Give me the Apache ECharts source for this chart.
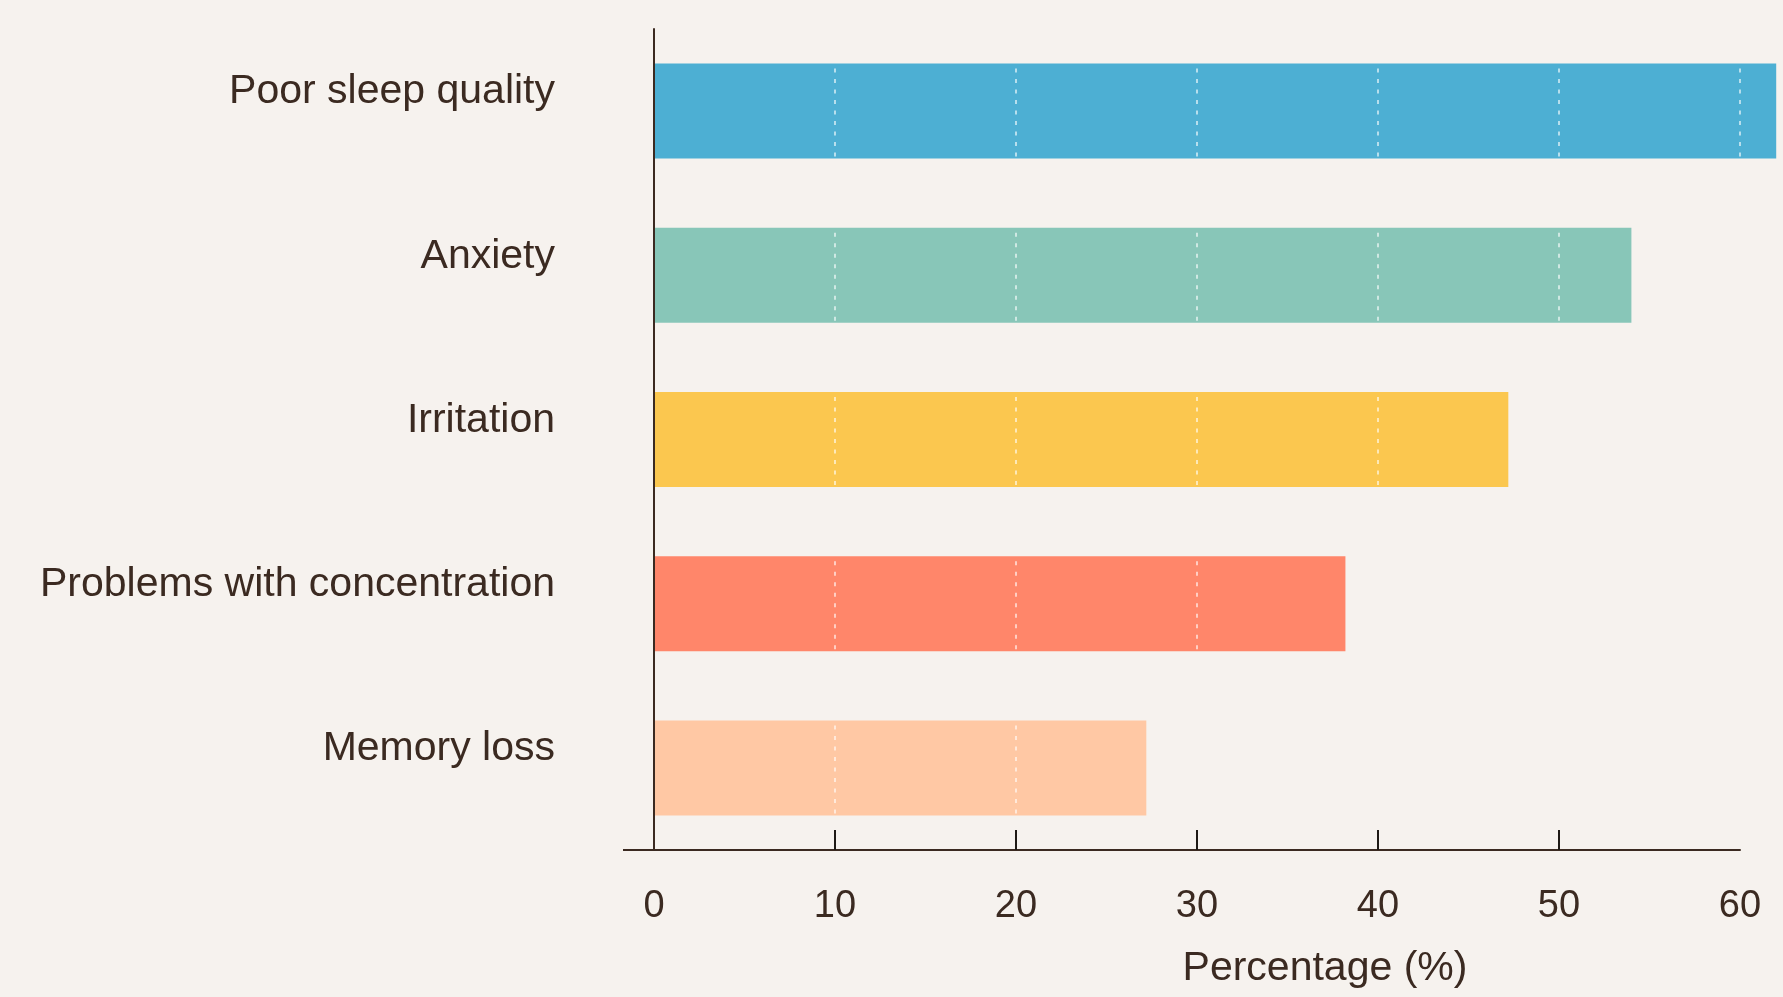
<!DOCTYPE html>
<html>
<head>
<meta charset="utf-8">
<script src="https://cdn.jsdelivr.net/npm/echarts@6/dist/echarts.min.js"></script>
<style>
  html, body { margin: 0; padding: 0; background: #f6f2ee; }
  #chart { width: 1783px; height: 997px; }
</style>
</head>
<body>
<div id="chart"></div>
<script>
const categories = ['Poor sleep quality', 'Anxiety', 'Irritation', 'Problems with concentration', 'Memory loss'];
const values = [62, 54, 47.2, 38.2, 27.2];
const barColors = ['#4dafd3', '#88c6b8', '#fbc74f', '#ff866a', '#ffc8a4'];
const xTicks = [0, 10, 20, 30, 40, 50, 60];

const textColor = '#3b2a21';
const font = '"Liberation Sans Narrow", "Liberation Sans", sans-serif';
const barWidth = 95;

const chart = echarts.init(document.getElementById('chart'));

// white dashed gridlines, only drawn inside each bar
function renderDashes(params, api) {
  const v = api.value(0);
  const cat = api.value(1);
  const cy = api.coord([0, cat])[1];
  const lines = [];
  xTicks.forEach(t => {
    if (t <= 0 || t > v) return;
    const x = api.coord([t, cat])[0];
    lines.push({
      type: 'line',
      shape: { x1: x, y1: cy - barWidth / 2 + 5, x2: x, y2: cy + barWidth / 2 },
      style: { stroke: 'rgba(255,255,255,0.8)', lineWidth: 1.5, lineDash: [4, 6.5] }
    });
  });
  return { type: 'group', children: lines };
}

const option = {
  backgroundColor: '#f6f2ee',
  animation: false,
  grid: { left: 654, right: 43, top: 29, bottom: 147 },
  xAxis: {
    type: 'value',
    min: xTicks[0],
    max: xTicks[xTicks.length - 1],
    interval: 10,
    z: 5,
    axisLine: { show: true, lineStyle: { color: textColor, width: 2 } },
    axisTick: {
      show: true, inside: true, length: 20,
      customValues: xTicks.slice(0, -1),
      lineStyle: { color: '#1e1915', width: 2 }
    },
    axisLabel: { color: textColor, fontSize: 38, fontFamily: font, margin: 38 },
    splitLine: { show: false }
  },
  yAxis: {
    type: 'category',
    data: categories,
    inverse: true,
    z: 6,
    axisLine: { show: true, lineStyle: { color: textColor, width: 2 } },
    axisTick: { show: false },
    // labels sit a little above the bar centres
    axisLabel: {
      color: textColor, fontSize: 41, fontFamily: font, margin: 99,
      verticalAlign: 'bottom', lineHeight: 38
    },
    splitLine: { show: false }
  },
  series: [{
    type: 'bar',
    barWidth: barWidth,
    clip: false,
    data: values.map((v, i) => ({ value: v, itemStyle: { color: barColors[i] } }))
  }, {
    type: 'custom',
    z: 4,
    clip: false,
    silent: true,
    renderItem: renderDashes,
    encode: { x: 0, y: 1 },
    data: values.map((v, i) => [v, i])
  }],
  graphic: [{
    type: 'text',
    x: 1325,
    y: 969,
    style: {
      text: 'Percentage (%)',
      fill: textColor,
      font: '41px ' + font,
      textAlign: 'center',
      textVerticalAlign: 'middle'
    }
  }]
};

chart.setOption(option);

// axis line runs a little to the left of zero
const zeroPt = chart.convertToPixel({ xAxisIndex: 0, yAxisIndex: 0 }, [0, categories[categories.length - 1]]);
chart.setOption({
  graphic: [option.graphic[0], {
    type: 'line',
    z: 10,
    shape: { x1: zeroPt[0] - 31, y1: 850, x2: zeroPt[0], y2: 850 },
    style: { stroke: textColor, lineWidth: 2 }
  }]
});
</script>
</body>
</html>
